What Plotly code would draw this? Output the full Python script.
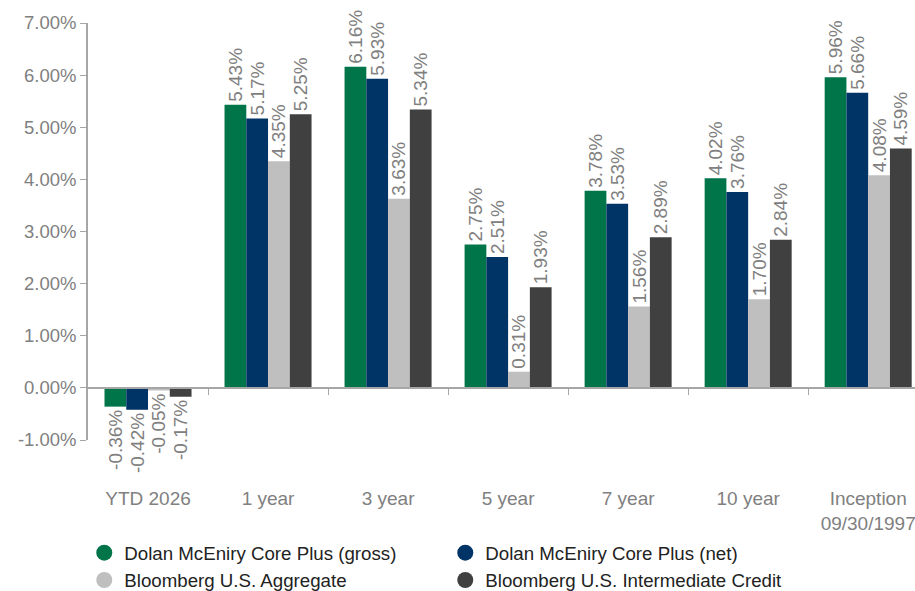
import plotly.graph_objects as go

categories = ["YTD 2026", "1 year", "3 year", "5 year", "7 year", "10 year", "Inception<br>09/30/1997"]
gross = [-0.36, 5.43, 6.16, 2.75, 3.78, 4.02, 5.96]
net = [-0.42, 5.17, 5.93, 2.51, 3.53, 3.76, 5.66]
aggregate = [-0.05, 4.35, 3.63, 0.31, 1.56, 1.70, 4.08]
credit = [-0.17, 5.25, 5.34, 1.93, 2.89, 2.84, 4.59]
series_names = ["Dolan McEniry Core Plus (gross)", "Dolan McEniry Core Plus (net)",
                "Bloomberg U.S. Aggregate", "Bloomberg U.S. Intermediate Credit"]
y_ticks = [-1, 0, 1, 2, 3, 4, 5, 6, 7]
y_tick_labels = ["-1.00%", "0.00%", "1.00%", "2.00%", "3.00%", "4.00%", "5.00%", "6.00%", "7.00%"]

colors = ["#00754A", "#003366", "#BFBFBF", "#404040"]
series = [gross, net, aggregate, credit]
FONT = "Liberation Sans"
GRAY = "#808080"
AXIS = "#A6A6A6"

fig = go.Figure()
for name, vals, col in zip(series_names, series, colors):
    fig.add_trace(go.Bar(
        x=categories, y=vals, name=name, marker=dict(color=col, line=dict(width=0)),
        text=[f"{v:.2f}%" for v in vals], textposition="outside", textangle=-90,
        textfont=dict(family=FONT, size=19, color=GRAY), constraintext="none",
        cliponaxis=False, showlegend=False,
    ))
for name, col in zip(series_names, colors):
    fig.add_trace(go.Scatter(
        x=[None], y=[None], mode="markers", name=name, xaxis="x2",
        marker=dict(symbol="circle", size=18, color=col), hoverinfo="skip",
    ))

fig.update_layout(
    width=915, height=591,
    margin=dict(l=88, r=0, t=23, b=151, autoexpand=False),
    plot_bgcolor="white", paper_bgcolor="white",
    barmode="group", bargap=0.275, bargroupgap=0,
    font=dict(family=FONT, size=16, color=GRAY),
    xaxis=dict(type="category", range=[-0.5, 6.39], showline=False, ticks="",
               showgrid=False, zeroline=False, ticklabelstandoff=45,
               tickfont=dict(family=FONT, size=19, color=GRAY)),
    xaxis2=dict(overlaying="x", anchor="free", position=0.125, range=[-0.5, 6.39],
                showline=True, linecolor=AXIS, linewidth=1.5,
                tickvals=[0.5, 1.5, 2.5, 3.5, 4.5, 5.5, 6.5], ticks="outside",
                ticklen=6, tickcolor=AXIS, showticklabels=False,
                showgrid=False, zeroline=False),
    yaxis=dict(range=[-1, 7], tickvals=y_ticks, ticktext=y_tick_labels,
               showline=True, linecolor=AXIS, linewidth=1.5, ticks="outside",
               ticklen=6, tickcolor=AXIS, showgrid=False, zeroline=False,
               tickfont=dict(family=FONT, size=18.5, color=GRAY)),
    legend=dict(orientation="h", x=-0.0045, xanchor="left", y=-0.2255, yanchor="top",
                entrywidth=316, font=dict(family=FONT, size=18.7, color="#222222"),
                tracegroupgap=0, itemsizing="trace"),
)

fig.write_html(
    "out.html",
    config={"displayModeBar": False},
    post_script="document.body.style.margin='0';document.documentElement.style.overflow='hidden';",
)
